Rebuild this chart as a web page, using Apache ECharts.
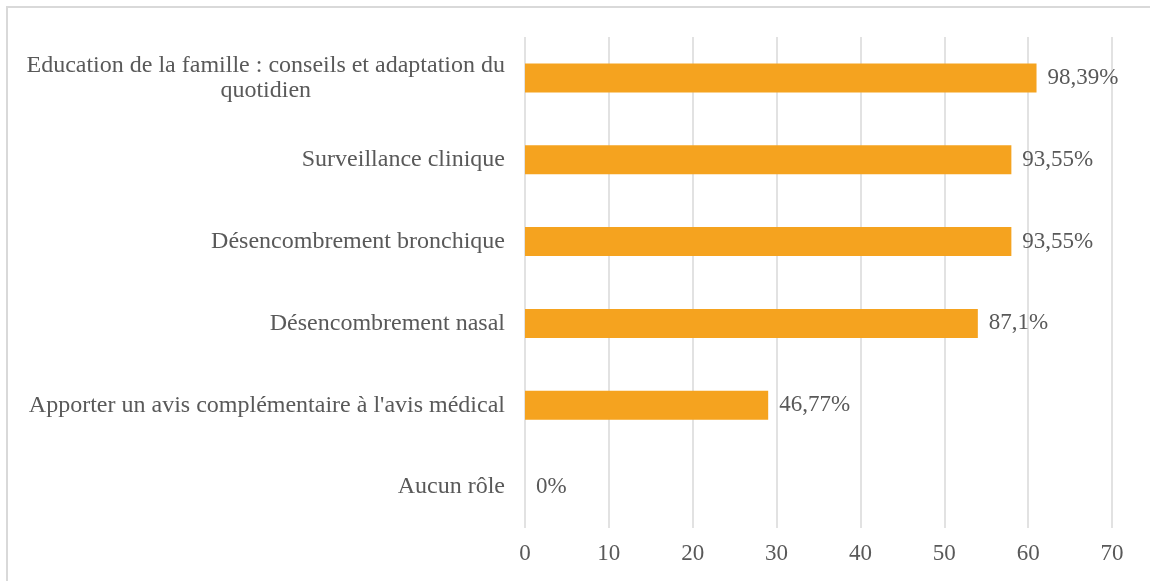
<!DOCTYPE html>
<html>
<head>
<meta charset="utf-8">
<script src="https://cdn.jsdelivr.net/npm/echarts@6/dist/echarts.min.js"></script>
<style>
  html, body { margin: 0; padding: 0; background: #fff; }
  #chart { width: 1150px; height: 581px; }
</style>
</head>
<body>
<div id="chart"></div>
<script>
  // rôles (de haut en bas)
  var categories = [
    'Education de la famille : conseils et adaptation du\nquotidien',
    'Surveillance clinique',
    'Désencombrement bronchique',
    'Désencombrement nasal',
    "Apporter un avis complémentaire à l'avis médical",
    'Aucun rôle'
  ]
  // effectifs (sur 62)
  var counts = [61, 58, 58, 54, 29, 0]
  var percentLabels = ['98,39%', '93,55%', '93,55%', '87,1%', '46,77%', '0%']
  var xTicks = [0, 10, 20, 30, 40, 50, 60, 70]

  var textColor = '#595959'
  var fontFamily = '"Liberation Serif", "Times New Roman", serif'

  var chart = echarts.init(document.getElementById('chart'))
  chart.setOption({
    animation: false,
    textStyle: { fontFamily: fontFamily },
    graphic: [{
      type: 'rect',
      shape: { x: 7, y: 7, width: 1300, height: 700 },
      style: { fill: 'none', stroke: '#d9d9d9', lineWidth: 2 },
      silent: true
    }],
    grid: { left: 525, right: 38, top: 37, bottom: 53, containLabel: false },
    xAxis: {
      type: 'value',
      min: xTicks[0],
      max: xTicks[xTicks.length - 1],
      interval: 10,
      axisLine: { show: false },
      axisTick: { show: false },
      splitLine: { lineStyle: { color: '#d9d9d9', width: 1.5 } },
      axisLabel: { color: textColor, fontSize: 23, margin: 14, fontFamily: fontFamily }
    },
    yAxis: {
      type: 'category',
      data: categories,
      inverse: true,
      axisLine: { show: false },
      axisTick: { show: false },
      axisLabel: {
        color: textColor,
        fontSize: 24,
        margin: 20,
        lineHeight: 25,
        fontFamily: fontFamily,
        formatter: function (v) {
          if (v.indexOf('\n') < 0) return v
          return v.split('\n').map(function (s) { return '{c|' + s + '}' }).join('\n')
        },
        rich: {
          c: { align: 'center', color: textColor, fontSize: 24, lineHeight: 25, fontFamily: fontFamily }
        }
      }
    },
    series: [{
      type: 'bar',
      data: counts,
      barWidth: 29,
      itemStyle: { color: '#F5A31F' },
      label: {
        show: true,
        position: 'right',
        distance: 11,
        color: textColor,
        fontSize: 23,
        fontFamily: fontFamily,
        formatter: function (p) { return percentLabels[p.dataIndex] }
      }
    }]
  })
</script>
</body>
</html>
